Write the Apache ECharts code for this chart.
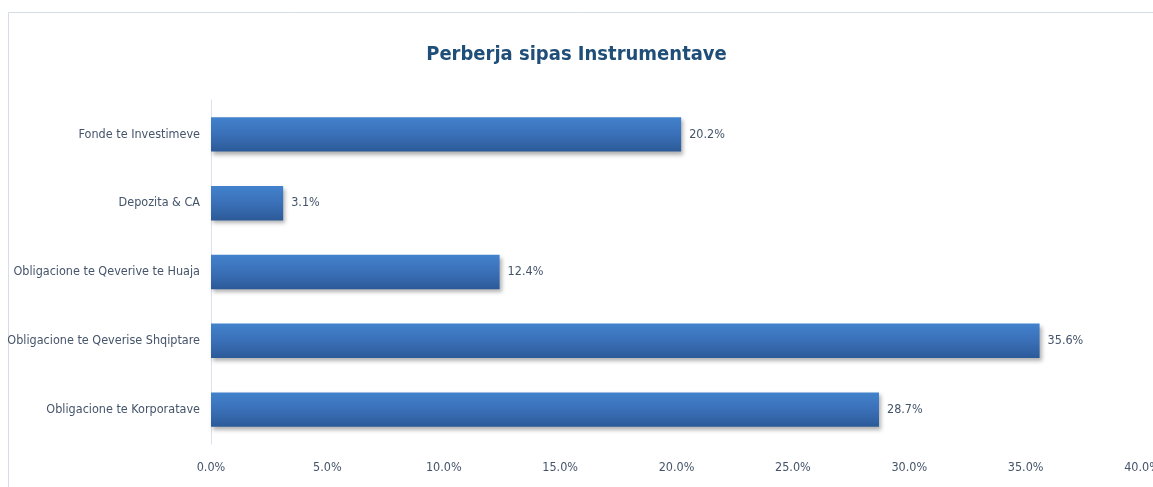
<!DOCTYPE html>
<html>
<head>
<meta charset="utf-8">
<script src="https://cdn.jsdelivr.net/npm/echarts@6/dist/echarts.min.js"></script>
<style>
html,body{margin:0;padding:0;background:#fff;}
#c{width:1153px;height:487px;}
</style>
</head>
<body>
<div id="c"></div>
<script>
const categories = ["Obligacione te Korporatave","Obligacione te Qeverise Shqiptare","Obligacione te Qeverive te Huaja","Depozita & CA","Fonde te Investimeve"];
const values = [28.7, 35.6, 12.4, 3.1, 20.2];
const titleText = "Perberja sipas Instrumentave";

const font = "'Liberation Sans Narrow','DejaVu Sans Condensed',sans-serif";
const chart = echarts.init(document.getElementById('c'));
chart.setOption({
  backgroundColor: '#fff',
  animation: false,
  title: {
    text: titleText, left: 'center', top: 40,
    textStyle: {color: '#1F4E79', fontSize: 20, fontWeight: 'bold', fontFamily: font}
  },
  graphic: [
    {type: 'line', shape: {x1: 8.5, y1: 12.5, x2: 1153, y2: 12.5}, style: {stroke: '#D6DCE5', lineWidth: 1}},
    {type: 'line', shape: {x1: 8.5, y1: 12.5, x2: 8.5, y2: 487}, style: {stroke: '#D6DCE5', lineWidth: 1}}
  ],
  grid: {left: 211, right: 11, top: 100, height: 344, containLabel: false, outerBoundsMode: 'none'},
  xAxis: {
    type: 'value', min: 0, max: 40, interval: 5,
    axisLine: {show: false}, axisTick: {show: false}, splitLine: {show: false},
    axisLabel: {formatter: v => v.toFixed(1) + '%', color: '#44546A', fontSize: 12.5, fontFamily: font, margin: 17}
  },
  yAxis: {
    type: 'category', data: categories,
    axisLine: {show: true, lineStyle: {color: '#D9E1F2', width: 1}},
    axisTick: {show: false},
    axisLabel: {color: '#44546A', fontSize: 12.5, fontFamily: font, margin: 11}
  },
  series: [{
    type: 'bar', data: values, barWidth: '50%',
    itemStyle: {
      color: new echarts.graphic.LinearGradient(0, 0, 0, 1, [
        {offset: 0, color: '#4282CC'},
        {offset: 0.5, color: '#3A70B8'},
        {offset: 1, color: '#2C5A98'}
      ]),
      shadowColor: 'rgba(0,0,0,0.3)', shadowBlur: 4, shadowOffsetX: 2, shadowOffsetY: 3
    },
    label: {
      show: true, position: 'right', distance: 8,
      formatter: p => p.value.toFixed(1) + '%',
      color: '#44546A', fontSize: 12.5, fontFamily: font
    }
  }]
});
</script>
</body>
</html>
